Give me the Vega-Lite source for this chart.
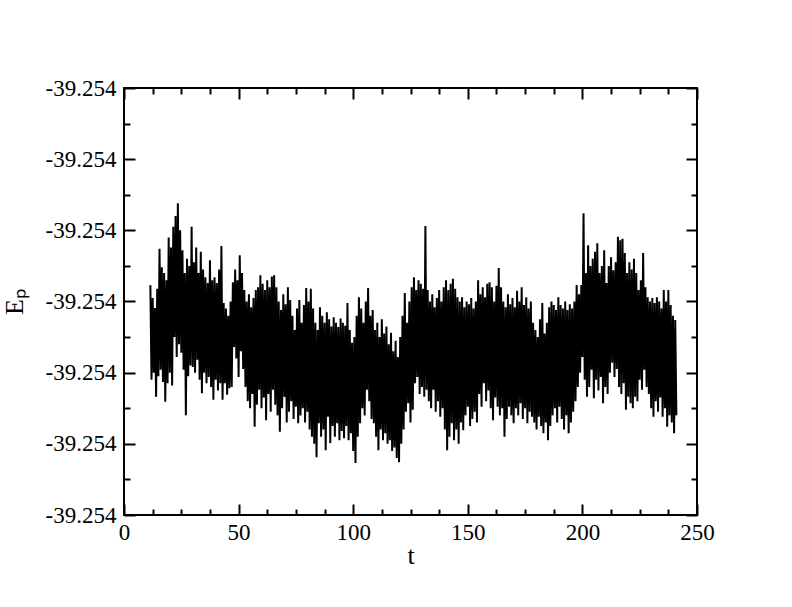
{
  "$schema": "https://vega.github.io/schema/vega-lite/v6.json",
  "width": 573,
  "height": 427,
  "autosize": "none",
  "padding": {"left": 124, "top": 88, "right": 95, "bottom": 92},
  "background": "white",
  "view": {"stroke": "black", "strokeWidth": 2, "fill": null},
  "config": {
    "axis": {"labelFont": "Liberation Serif", "titleFont": "Liberation Serif", "labelFontSize": 23, "titleFontSize": 26, "labelColor": "black", "titleColor": "black", "tickColor": "black", "tickWidth": 2, "domain": false, "grid": false, "titleFontWeight": "normal"}
  },
  "data": {"values": [
{"t":11.5,"E":-39.253977},{"t":12.0,"E":-39.254110},{"t":12.5,"E":-39.253995},{"t":13.0,"E":-39.254100},{"t":13.5,"E":-39.254009},{"t":14.0,"E":-39.254134},{"t":14.5,"E":-39.253982},{"t":15.0,"E":-39.254105},{"t":15.5,"E":-39.253926},{"t":16.0,"E":-39.254096},
{"t":16.5,"E":-39.253952},{"t":17.0,"E":-39.254113},{"t":17.5,"E":-39.253960},{"t":18.0,"E":-39.254141},{"t":18.5,"E":-39.253970},{"t":19.0,"E":-39.254115},{"t":19.5,"E":-39.253910},{"t":20.0,"E":-39.254100},{"t":20.5,"E":-39.253924},{"t":21.0,"E":-39.254118},
{"t":21.5,"E":-39.253895},{"t":22.0,"E":-39.254050},{"t":22.5,"E":-39.253880},{"t":23.0,"E":-39.254078},{"t":23.5,"E":-39.253862},{"t":24.0,"E":-39.254060},{"t":24.5,"E":-39.253900},{"t":25.0,"E":-39.254072},{"t":25.5,"E":-39.253928},{"t":26.0,"E":-39.254096},
{"t":26.5,"E":-39.253960},{"t":27.0,"E":-39.254160},{"t":27.5,"E":-39.253940},{"t":28.0,"E":-39.254105},{"t":28.5,"E":-39.253950},{"t":29.0,"E":-39.254090},{"t":29.5,"E":-39.253895},{"t":30.0,"E":-39.254092},{"t":30.5,"E":-39.253945},{"t":31.0,"E":-39.254100},
{"t":31.5,"E":-39.253924},{"t":32.0,"E":-39.254082},{"t":32.5,"E":-39.253960},{"t":33.0,"E":-39.254110},{"t":33.5,"E":-39.253930},{"t":34.0,"E":-39.254129},{"t":34.5,"E":-39.253955},{"t":35.0,"E":-39.254100},{"t":35.5,"E":-39.253966},{"t":36.0,"E":-39.254115},
{"t":36.5,"E":-39.253974},{"t":37.0,"E":-39.254106},{"t":37.5,"E":-39.253942},{"t":38.0,"E":-39.254120},{"t":38.5,"E":-39.253970},{"t":39.0,"E":-39.254138},{"t":39.5,"E":-39.253966},{"t":40.0,"E":-39.254110},{"t":40.5,"E":-39.253974},{"t":41.0,"E":-39.254125},
{"t":41.5,"E":-39.253955},{"t":42.0,"E":-39.254115},{"t":42.5,"E":-39.253922},{"t":43.0,"E":-39.254138},{"t":43.5,"E":-39.254002},{"t":44.0,"E":-39.254115},{"t":44.5,"E":-39.254010},{"t":45.0,"E":-39.254131},{"t":45.5,"E":-39.254020},{"t":46.0,"E":-39.254122},
{"t":46.5,"E":-39.254000},{"t":47.0,"E":-39.254120},{"t":47.5,"E":-39.253973},{"t":48.0,"E":-39.254064},{"t":48.5,"E":-39.253955},{"t":49.0,"E":-39.254080},{"t":49.5,"E":-39.253970},{"t":50.0,"E":-39.254106},{"t":50.5,"E":-39.253935},{"t":51.0,"E":-39.254070},
{"t":51.5,"E":-39.253960},{"t":52.0,"E":-39.254095},{"t":52.5,"E":-39.253984},{"t":53.0,"E":-39.254120},{"t":53.5,"E":-39.254000},{"t":54.0,"E":-39.254140},{"t":54.5,"E":-39.253990},{"t":55.0,"E":-39.254150},{"t":55.5,"E":-39.254008},{"t":56.0,"E":-39.254130},
{"t":56.5,"E":-39.253995},{"t":57.0,"E":-39.254176},{"t":57.5,"E":-39.253984},{"t":58.0,"E":-39.254145},{"t":58.5,"E":-39.253980},{"t":59.0,"E":-39.254124},{"t":59.5,"E":-39.253963},{"t":60.0,"E":-39.254150},{"t":60.5,"E":-39.253975},{"t":61.0,"E":-39.254135},
{"t":61.5,"E":-39.253984},{"t":62.0,"E":-39.254167},{"t":62.5,"E":-39.253970},{"t":63.0,"E":-39.254130},{"t":63.5,"E":-39.253980},{"t":64.0,"E":-39.254155},{"t":64.5,"E":-39.253965},{"t":65.0,"E":-39.254124},{"t":65.5,"E":-39.253963},{"t":66.0,"E":-39.254145},
{"t":66.5,"E":-39.253980},{"t":67.0,"E":-39.254160},{"t":67.5,"E":-39.254000},{"t":68.0,"E":-39.254183},{"t":68.5,"E":-39.254012},{"t":69.0,"E":-39.254150},{"t":69.5,"E":-39.253990},{"t":70.0,"E":-39.254134},{"t":70.5,"E":-39.254004},{"t":71.0,"E":-39.254170},
{"t":71.5,"E":-39.253980},{"t":72.0,"E":-39.254155},{"t":72.5,"E":-39.253998},{"t":73.0,"E":-39.254140},{"t":73.5,"E":-39.254020},{"t":74.0,"E":-39.254165},{"t":74.5,"E":-39.254040},{"t":75.0,"E":-39.254148},{"t":75.5,"E":-39.254010},{"t":76.0,"E":-39.254171},
{"t":76.5,"E":-39.253998},{"t":77.0,"E":-39.254160},{"t":77.5,"E":-39.254030},{"t":78.0,"E":-39.254150},{"t":78.5,"E":-39.254005},{"t":79.0,"E":-39.254170},{"t":79.5,"E":-39.253981},{"t":80.0,"E":-39.254155},{"t":80.5,"E":-39.254000},{"t":81.0,"E":-39.254180},
{"t":81.5,"E":-39.253982},{"t":82.0,"E":-39.254190},{"t":82.5,"E":-39.254010},{"t":83.0,"E":-39.254200},{"t":83.5,"E":-39.254030},{"t":84.0,"E":-39.254219},{"t":84.5,"E":-39.254040},{"t":85.0,"E":-39.254171},{"t":85.5,"E":-39.254008},{"t":86.0,"E":-39.254190},
{"t":86.5,"E":-39.254020},{"t":87.0,"E":-39.254180},{"t":87.5,"E":-39.254030},{"t":88.0,"E":-39.254209},{"t":88.5,"E":-39.254015},{"t":89.0,"E":-39.254162},{"t":89.5,"E":-39.254025},{"t":90.0,"E":-39.254199},{"t":90.5,"E":-39.254035},{"t":91.0,"E":-39.254175},
{"t":91.5,"E":-39.254022},{"t":92.0,"E":-39.254190},{"t":92.5,"E":-39.254030},{"t":93.0,"E":-39.254171},{"t":93.5,"E":-39.254036},{"t":94.0,"E":-39.254195},{"t":94.5,"E":-39.254024},{"t":95.0,"E":-39.254182},{"t":95.5,"E":-39.254030},{"t":96.0,"E":-39.254192},
{"t":96.5,"E":-39.254034},{"t":97.0,"E":-39.254175},{"t":97.5,"E":-39.254002},{"t":98.0,"E":-39.254195},{"t":98.5,"E":-39.254040},{"t":99.0,"E":-39.254185},{"t":99.5,"E":-39.254058},{"t":100.0,"E":-39.254210},{"t":100.5,"E":-39.254050},{"t":101.0,"E":-39.254227},
{"t":101.5,"E":-39.254020},{"t":102.0,"E":-39.254190},{"t":102.5,"E":-39.253994},{"t":103.0,"E":-39.254171},{"t":103.5,"E":-39.254010},{"t":104.0,"E":-39.254150},{"t":104.5,"E":-39.254030},{"t":105.0,"E":-39.254160},{"t":105.5,"E":-39.254000},{"t":106.0,"E":-39.254124},
{"t":106.5,"E":-39.253981},{"t":107.0,"E":-39.254140},{"t":107.5,"E":-39.254020},{"t":108.0,"E":-39.254165},{"t":108.5,"E":-39.254012},{"t":109.0,"E":-39.254171},{"t":109.5,"E":-39.254040},{"t":110.0,"E":-39.254190},{"t":110.5,"E":-39.254030},{"t":111.0,"E":-39.254209},
{"t":111.5,"E":-39.254050},{"t":112.0,"E":-39.254180},{"t":112.5,"E":-39.254025},{"t":113.0,"E":-39.254195},{"t":113.5,"E":-39.254045},{"t":114.0,"E":-39.254185},{"t":114.5,"E":-39.254035},{"t":115.0,"E":-39.254200},{"t":115.5,"E":-39.254060},{"t":116.0,"E":-39.254195},
{"t":116.5,"E":-39.254044},{"t":117.0,"E":-39.254210},{"t":117.5,"E":-39.254070},{"t":118.0,"E":-39.254205},{"t":118.5,"E":-39.254055},{"t":119.0,"E":-39.254220},{"t":119.5,"E":-39.254078},{"t":120.0,"E":-39.254226},{"t":120.5,"E":-39.254050},{"t":121.0,"E":-39.254200},
{"t":121.5,"E":-39.254020},{"t":122.0,"E":-39.254180},{"t":122.5,"E":-39.253988},{"t":123.0,"E":-39.254155},{"t":123.5,"E":-39.254030},{"t":124.0,"E":-39.254143},{"t":124.5,"E":-39.254000},{"t":125.0,"E":-39.254170},{"t":125.5,"E":-39.253980},{"t":126.0,"E":-39.254152},
{"t":126.5,"E":-39.253966},{"t":127.0,"E":-39.254115},{"t":127.5,"E":-39.253984},{"t":128.0,"E":-39.254106},{"t":128.5,"E":-39.253970},{"t":129.0,"E":-39.254130},{"t":129.5,"E":-39.253975},{"t":130.0,"E":-39.254120},{"t":130.5,"E":-39.253982},{"t":131.0,"E":-39.254134},
{"t":131.5,"E":-39.253894},{"t":132.0,"E":-39.254124},{"t":132.5,"E":-39.253984},{"t":133.0,"E":-39.254140},{"t":133.5,"E":-39.254000},{"t":134.0,"E":-39.254150},{"t":134.5,"E":-39.253990},{"t":135.0,"E":-39.254124},{"t":135.5,"E":-39.254008},{"t":136.0,"E":-39.254155},
{"t":136.5,"E":-39.253995},{"t":137.0,"E":-39.254140},{"t":137.5,"E":-39.253984},{"t":138.0,"E":-39.254162},{"t":138.5,"E":-39.254000},{"t":139.0,"E":-39.254150},{"t":139.5,"E":-39.253980},{"t":140.0,"E":-39.254180},{"t":140.5,"E":-39.253970},{"t":141.0,"E":-39.254209},
{"t":141.5,"E":-39.253984},{"t":142.0,"E":-39.254190},{"t":142.5,"E":-39.253975},{"t":143.0,"E":-39.254171},{"t":143.5,"E":-39.253968},{"t":144.0,"E":-39.254195},{"t":144.5,"E":-39.253982},{"t":145.0,"E":-39.254180},{"t":145.5,"E":-39.253994},{"t":146.0,"E":-39.254200},
{"t":146.5,"E":-39.254000},{"t":147.0,"E":-39.254170},{"t":147.5,"E":-39.253994},{"t":148.0,"E":-39.254181},{"t":148.5,"E":-39.254008},{"t":149.0,"E":-39.254160},{"t":149.5,"E":-39.254000},{"t":150.0,"E":-39.254148},{"t":150.5,"E":-39.254004},{"t":151.0,"E":-39.254175},
{"t":151.5,"E":-39.253995},{"t":152.0,"E":-39.254165},{"t":152.5,"E":-39.254010},{"t":153.0,"E":-39.254155},{"t":153.5,"E":-39.254000},{"t":154.0,"E":-39.254170},{"t":154.5,"E":-39.253970},{"t":155.0,"E":-39.254130},{"t":155.5,"E":-39.253990},{"t":156.0,"E":-39.254148},
{"t":156.5,"E":-39.253980},{"t":157.0,"E":-39.254115},{"t":157.5,"E":-39.253994},{"t":158.0,"E":-39.254140},{"t":158.5,"E":-39.253975},{"t":159.0,"E":-39.254125},{"t":159.5,"E":-39.253973},{"t":160.0,"E":-39.254150},{"t":160.5,"E":-39.253980},{"t":161.0,"E":-39.254167},
{"t":161.5,"E":-39.254000},{"t":162.0,"E":-39.254135},{"t":162.5,"E":-39.253978},{"t":163.0,"E":-39.254148},{"t":163.5,"E":-39.253953},{"t":164.0,"E":-39.254160},{"t":164.5,"E":-39.253980},{"t":165.0,"E":-39.254150},{"t":165.5,"E":-39.254000},{"t":166.0,"E":-39.254190},
{"t":166.5,"E":-39.254008},{"t":167.0,"E":-39.254165},{"t":167.5,"E":-39.253990},{"t":168.0,"E":-39.254148},{"t":168.5,"E":-39.254004},{"t":169.0,"E":-39.254160},{"t":169.5,"E":-39.253995},{"t":170.0,"E":-39.254171},{"t":170.5,"E":-39.254008},{"t":171.0,"E":-39.254150},
{"t":171.5,"E":-39.253985},{"t":172.0,"E":-39.254160},{"t":172.5,"E":-39.254000},{"t":173.0,"E":-39.254143},{"t":173.5,"E":-39.253980},{"t":174.0,"E":-39.254165},{"t":174.5,"E":-39.254005},{"t":175.0,"E":-39.254150},{"t":175.5,"E":-39.253994},{"t":176.0,"E":-39.254171},
{"t":176.5,"E":-39.254010},{"t":177.0,"E":-39.254155},{"t":177.5,"E":-39.254000},{"t":178.0,"E":-39.254162},{"t":178.5,"E":-39.254030},{"t":179.0,"E":-39.254170},{"t":179.5,"E":-39.254040},{"t":180.0,"E":-39.254180},{"t":180.5,"E":-39.254050},{"t":181.0,"E":-39.254162},
{"t":181.5,"E":-39.254025},{"t":182.0,"E":-39.254175},{"t":182.5,"E":-39.254002},{"t":183.0,"E":-39.254185},{"t":183.5,"E":-39.254045},{"t":184.0,"E":-39.254170},{"t":184.5,"E":-39.254030},{"t":185.0,"E":-39.254195},{"t":185.5,"E":-39.254008},{"t":186.0,"E":-39.254175},
{"t":186.5,"E":-39.254000},{"t":187.0,"E":-39.254160},{"t":187.5,"E":-39.254005},{"t":188.0,"E":-39.254150},{"t":188.5,"E":-39.254012},{"t":189.0,"E":-39.254170},{"t":189.5,"E":-39.253994},{"t":190.0,"E":-39.254148},{"t":190.5,"E":-39.254005},{"t":191.0,"E":-39.254165},
{"t":191.5,"E":-39.254010},{"t":192.0,"E":-39.254180},{"t":192.5,"E":-39.254000},{"t":193.0,"E":-39.254160},{"t":193.5,"E":-39.254012},{"t":194.0,"E":-39.254185},{"t":194.5,"E":-39.254004},{"t":195.0,"E":-39.254170},{"t":195.5,"E":-39.254010},{"t":196.0,"E":-39.254155},
{"t":196.5,"E":-39.254000},{"t":197.0,"E":-39.254140},{"t":197.5,"E":-39.253977},{"t":198.0,"E":-39.254120},{"t":198.5,"E":-39.253990},{"t":199.0,"E":-39.254100},{"t":199.5,"E":-39.253977},{"t":200.0,"E":-39.254078},{"t":200.5,"E":-39.253876},{"t":201.0,"E":-39.254110},
{"t":201.5,"E":-39.253960},{"t":202.0,"E":-39.254134},{"t":202.5,"E":-39.253921},{"t":203.0,"E":-39.254120},{"t":203.5,"E":-39.253950},{"t":204.0,"E":-39.254096},{"t":204.5,"E":-39.253940},{"t":205.0,"E":-39.254136},{"t":205.5,"E":-39.253930},{"t":206.0,"E":-39.254110},
{"t":206.5,"E":-39.253918},{"t":207.0,"E":-39.254125},{"t":207.5,"E":-39.253960},{"t":208.0,"E":-39.254106},{"t":208.5,"E":-39.253950},{"t":209.0,"E":-39.254143},{"t":209.5,"E":-39.253928},{"t":210.0,"E":-39.254120},{"t":210.5,"E":-39.253974},{"t":211.0,"E":-39.254130},
{"t":211.5,"E":-39.253950},{"t":212.0,"E":-39.254100},{"t":212.5,"E":-39.253938},{"t":213.0,"E":-39.254086},{"t":213.5,"E":-39.253956},{"t":214.0,"E":-39.254106},{"t":214.5,"E":-39.253945},{"t":215.0,"E":-39.254095},{"t":215.5,"E":-39.253909},{"t":216.0,"E":-39.254120},
{"t":216.5,"E":-39.253914},{"t":217.0,"E":-39.254130},{"t":217.5,"E":-39.253912},{"t":218.0,"E":-39.254115},{"t":218.5,"E":-39.253932},{"t":219.0,"E":-39.254152},{"t":219.5,"E":-39.253960},{"t":220.0,"E":-39.254134},{"t":220.5,"E":-39.253945},{"t":221.0,"E":-39.254143},
{"t":221.5,"E":-39.253955},{"t":222.0,"E":-39.254150},{"t":222.5,"E":-39.253940},{"t":223.0,"E":-39.254134},{"t":223.5,"E":-39.253960},{"t":224.0,"E":-39.254140},{"t":224.5,"E":-39.253984},{"t":225.0,"E":-39.254110},{"t":225.5,"E":-39.253970},{"t":226.0,"E":-39.254124},
{"t":226.5,"E":-39.253932},{"t":227.0,"E":-39.254096},{"t":227.5,"E":-39.253980},{"t":228.0,"E":-39.254120},{"t":228.5,"E":-39.253994},{"t":229.0,"E":-39.254130},{"t":229.5,"E":-39.254000},{"t":230.0,"E":-39.254150},{"t":230.5,"E":-39.253995},{"t":231.0,"E":-39.254162},
{"t":231.5,"E":-39.254002},{"t":232.0,"E":-39.254140},{"t":232.5,"E":-39.253994},{"t":233.0,"E":-39.254155},{"t":233.5,"E":-39.254000},{"t":234.0,"E":-39.254135},{"t":234.5,"E":-39.254010},{"t":235.0,"E":-39.254162},{"t":235.5,"E":-39.253984},{"t":236.0,"E":-39.254150},
{"t":236.5,"E":-39.254000},{"t":237.0,"E":-39.254176},{"t":237.5,"E":-39.253984},{"t":238.0,"E":-39.254160},{"t":238.5,"E":-39.254005},{"t":239.0,"E":-39.254170},{"t":239.5,"E":-39.254020},{"t":240.0,"E":-39.254185},{"t":240.5,"E":-39.254026},{"t":241.0,"E":-39.254160}
  ]},
  "layer": [
    {
      "mark": {"type": "line", "color": "black", "strokeWidth": 2, "clip": true},
      "encoding": {
        "x": {"field": "t", "type": "quantitative", "scale": {"domain": [0, 250], "nice": false, "zero": false},
          "axis": {"orient": "bottom", "title": "t", "titleX": 286.5, "titleY": 48, "titleBaseline": "alphabetic", "titleAlign": "center", "values": [0,12.5,25,37.5,50,62.5,75,87.5,100,112.5,125,137.5,150,162.5,175,187.5,200,212.5,225,237.5,250],
            "labelExpr": "datum.value % 50 === 0 ? datum.label : ''", "labelPadding": 17, "labelFlush": false, "labelOverlap": false,
            "tickSize": {"condition": {"test": "datum.value % 50 === 0", "value": -11}, "value": -6}}},
        "y": {"field": "E", "type": "quantitative", "scale": {"domain": [-39.2543, -39.2537], "nice": false, "zero": false},
          "axis": {"orient": "left", "title": "Eₚ", "titleX": -102, "titleY": 213.5, "titleAngle": -90, "titleBaseline": "alphabetic", "titleAlign": "center", "format": ".3f",
            "values": [-39.2543,-39.25425,-39.2542,-39.25415,-39.2541,-39.25405,-39.254,-39.25395,-39.2539,-39.25385,-39.2538,-39.25375,-39.2537],
            "labelExpr": "round((datum.value + 39.2543) * 20000) % 2 === 0 ? replace(datum.label, '−', '-') : ''", "labelPadding": 19, "labelFlush": false, "labelOverlap": false,
            "tickSize": {"condition": {"test": "round((datum.value + 39.2543) * 20000) % 2 === 0", "value": -11}, "value": -6}}}
      }
    },
    {
      "mark": {"type": "line", "opacity": 0},
      "encoding": {
        "x": {"field": "t", "type": "quantitative",
          "axis": {"orient": "top", "title": null, "labels": false, "values": [0,12.5,25,37.5,50,62.5,75,87.5,100,112.5,125,137.5,150,162.5,175,187.5,200,212.5,225,237.5,250],
            "tickSize": {"condition": {"test": "datum.value % 50 === 0", "value": -11}, "value": -6}}},
        "y": {"field": "E", "type": "quantitative",
          "axis": {"orient": "right", "title": null, "labels": false,
            "values": [-39.2543,-39.25425,-39.2542,-39.25415,-39.2541,-39.25405,-39.254,-39.25395,-39.2539,-39.25385,-39.2538,-39.25375,-39.2537],
            "tickSize": {"condition": {"test": "round((datum.value + 39.2543) * 20000) % 2 === 0", "value": -11}, "value": -6}}}
      }
    }
  ],
  "resolve": {"axis": {"x": "independent", "y": "independent"}}
}
